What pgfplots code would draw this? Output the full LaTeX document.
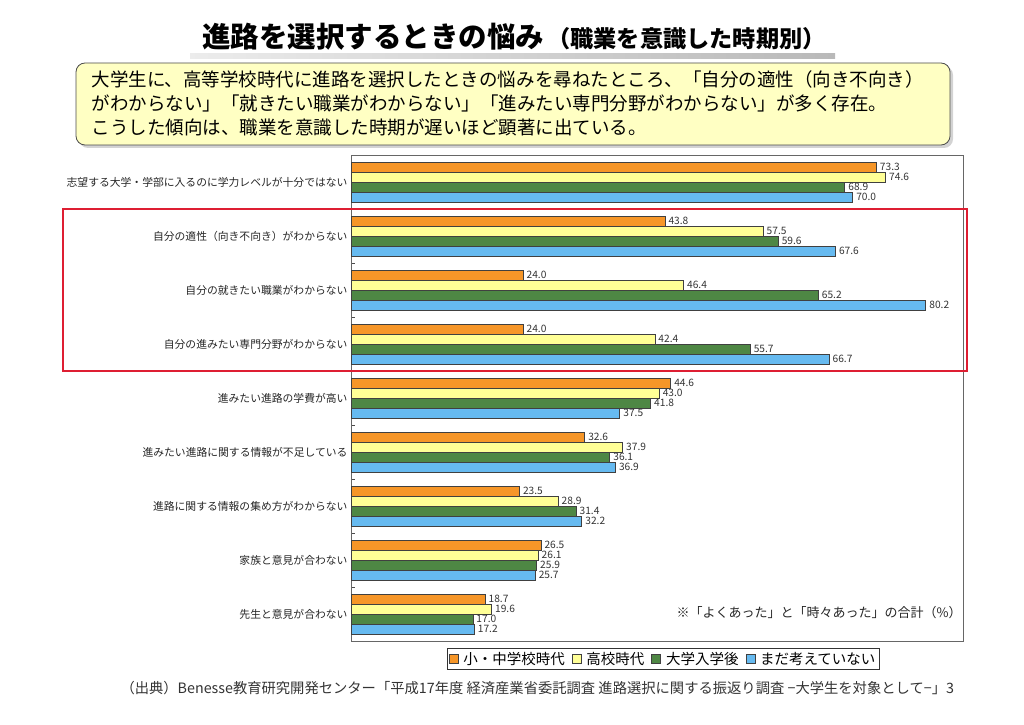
\documentclass[border=0pt]{standalone}
\usepackage{pgfplots}
\pgfplotsset{compat=1.18}
\usepackage{fontspec}
\setmainfont{Noto Sans CJK JP}
\usetikzlibrary{shadows}
\definecolor{cOr}{RGB}{246,150,40}
\definecolor{cYe}{RGB}{255,255,150}
\definecolor{cGr}{RGB}{78,135,68}
\definecolor{cBl}{RGB}{102,186,240}
\definecolor{boxfill}{RGB}{255,255,195}
\definecolor{redbox}{RGB}{222,30,50}
\begin{document}
\begin{tikzpicture}[x=1pt,y=1pt]
\path[use as bounding box] (0,0) rectangle (1024,724);
% title
\shade[left color=gray!15, middle color={rgb,255:red,85;green,95;blue,175}, right color=gray!55] (190,724-59) rectangle (835,724-54);
\node[anchor=base west, inner sep=0pt] at (202,724-48) {\bfseries\fontsize{28.5}{30}\selectfont 進路を選択するときの悩み\hspace{3pt}\fontsize{23.2}{25}\selectfont（職業を意識した時期別）};
% text box
\draw[rounded corners=9pt, fill=boxfill, draw=black!70, line width=0.8pt, drop shadow={shadow xshift=3pt, shadow yshift=-3pt, opacity=0.35}] (76,724-63) rectangle (950,724-145);
\node[anchor=base west, font=\fontsize{18.5}{20}\selectfont] at (88,724-87) {大学生に、高等学校時代に進路を選択したときの悩みを尋ねたところ、「自分の適性（向き不向き）};
\node[anchor=base west, font=\fontsize{18.5}{20}\selectfont] at (88,724-111) {がわからない」「就きたい職業がわからない」「進みたい専門分野がわからない」が多く存在。};
\node[anchor=base west, font=\fontsize{18.5}{20}\selectfont] at (88,724-135) {こうした傾向は、職業を意識した時期が遅いほど顕著に出ている。};
\begin{axis}[
  at={(351pt,83pt)}, anchor=south west, scale only axis,
  width=612pt, height=486pt,
  xbar, bar width=10pt,
  xmin=0, xmax=85.4, ymin=-0.5, ymax=8.5,
  xtick=\empty,
  ytick={0,...,8},
  yticklabels={先生と意見が合わない, 家族と意見が合わない, 進路に関する情報の集め方がわからない, 進みたい進路に関する情報が不足している, 進みたい進路の学費が高い, 自分の進みたい専門分野がわからない, 自分の就きたい職業がわからない, 自分の適性（向き不向き）がわからない, 志望する大学・学部に入るのに学力レベルが十分ではない},
  yticklabel style={font=\fontsize{10.8}{12}\selectfont, text=black!85},
  major tick length=0pt,
  minor ytick={0.5,1.5,...,7.5},
  minor tick length=4pt,
  tick align=inside, ytick pos=left,
  axis line style={draw=black!60, line width=0.8pt},
  every minor tick/.style={draw=black!70, line width=0.6pt},
  nodes near coords,
  point meta=x,
  nodes near coords style={font=\fontsize{10.2}{11}\selectfont, text=black!80, /pgf/number format/.cd, fixed, fixed zerofill, precision=1, assume math mode=true},
  every axis plot/.append style={draw=black!75, line width=0.6pt},
  legend style={at={(0.51,0)}, anchor=north, yshift=-7pt, legend columns=4, font=\fontsize{14.5}{16}\selectfont, draw=black!80, line width=0.7pt, inner sep=1.5pt,
    /tikz/every odd column/.append style={column sep=3pt},
    /tikz/every even column/.append style={column sep=5pt}},
  legend image code/.code={\draw[#1, draw=black!75, line width=0.6pt] (0pt,-4.5pt) rectangle (9pt,4.5pt);},
]
\addplot[fill=cOr, bar shift=15pt] coordinates {(73.3,8) (43.8,7) (24.0,6) (24.0,5) (44.6,4) (32.6,3) (23.5,2) (26.5,1) (18.7,0)};
\addplot[fill=cYe, bar shift=5pt] coordinates {(74.6,8) (57.5,7) (46.4,6) (42.4,5) (43.0,4) (37.9,3) (28.9,2) (26.1,1) (19.6,0)};
\addplot[fill=cGr, bar shift=-5pt] coordinates {(68.9,8) (59.6,7) (65.2,6) (55.7,5) (41.8,4) (36.1,3) (31.4,2) (25.9,1) (17.0,0)};
\addplot[fill=cBl, bar shift=-15pt] coordinates {(70.0,8) (67.6,7) (80.2,6) (66.7,5) (37.5,4) (36.9,3) (32.2,2) (25.7,1) (17.2,0)};
\legend{小・中学校時代, 高校時代, 大学入学後, まだ考えていない}
\end{axis}
\draw[redbox, line width=2pt] (63,724-209) rectangle (967,724-371);
\node[anchor=base west, font=\fontsize{13}{15}\selectfont, text=black!85] at (673,724-617) {※「よくあった」と「時々あった」の合計（\%）};
\node[anchor=base west, font=\fontsize{14.3}{16}\selectfont, text=black!80] at (117,724-693) {（出典）Benesse教育研究開発センター「平成17年度 経済産業省委託調査 進路選択に関する振返り調査 −大学生を対象として−」3};
\end{tikzpicture}
\end{document}
